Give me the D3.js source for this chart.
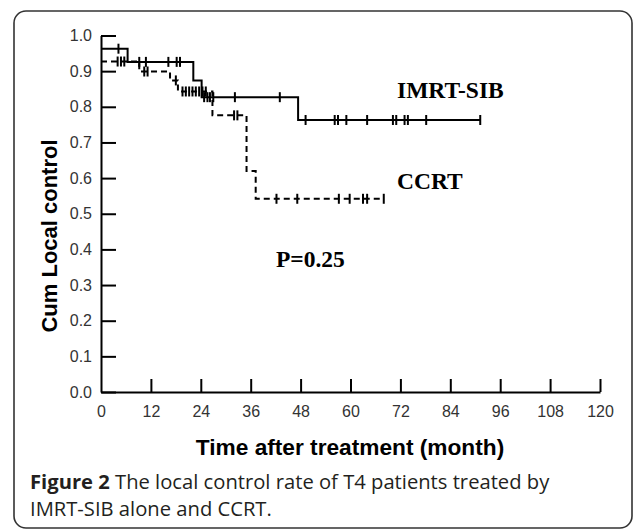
<!DOCTYPE html>
<html><head><meta charset="utf-8">
<script src="https://cdn.jsdelivr.net/npm/d3@7"></script>
<style>body{margin:0;background:#fff}svg{display:block}</style>
</head><body>
<svg id="chart" width="633" height="530"></svg>
<script>
// ---- data ----
const yTicks = [0, 0.1, 0.2, 0.3, 0.4, 0.5, 0.6, 0.7, 0.8, 0.9, 1.0];
const xTicks = [0, 12, 24, 36, 48, 60, 72, 84, 96, 108, 120];

const imrtTimes = [0, 6.4, 22.2, 24.2, 47.4, 91.2];
const imrtSurv  = [0.963, 0.926, 0.874, 0.827, 0.763, 0.763];
const imrtCensor = [4.2, 9.2, 10.8, 16.2, 18.2, 19.0, 24.8, 25.6, 26.2, 27.0, 32.2, 43.0,
                    49.2, 56.2, 57.0, 59.0, 64.0, 70.2, 71.0, 73.0, 73.8, 78.2, 91.2];

const ccrtTimes = [0, 9.2, 16.6, 18.5, 26.8, 35.0, 37.2, 68.0];
const ccrtSurv  = [0.927, 0.899, 0.874, 0.843, 0.776, 0.62, 0.542, 0.542];
const ccrtCensor = [4.0, 4.8, 5.6, 10.4, 11.2, 18.0, 19.6, 20.4, 21.2, 22.0, 22.8, 23.6, 24.4, 25.2,
                    32.0, 32.8, 42.2, 47.2, 57.2, 59.8, 63.0, 64.0, 68.0];

const seriesLabels = ["IMRT-SIB", "CCRT"];
const pLabel = "P=0.25";
const xTitle = "Time after treatment (month)";
const yTitle = "Cum Local control";

// ---- drawing ----
const svg = d3.select("#chart");
svg.append("rect").attr("x", 14).attr("y", 11).attr("width", 618).attr("height", 517)
  .attr("rx", 12).attr("fill", "#fff").attr("stroke", "#333").attr("stroke-width", 1.6);

const x = d3.scaleLinear().domain([0, 120]).range([101, 600]);
const y = d3.scaleLinear().domain([0, 1]).range([392, 35.5]);

const yAxis = d3.axisLeft(y).tickValues(yTicks).tickFormat(d3.format(".1f"))
  .tickSizeInner(-15).tickSizeOuter(0).tickPadding(9);
const gy = svg.append("g").attr("transform", `translate(${x(0)},0)`).call(yAxis);
const xAxis = d3.axisBottom(x).tickValues(xTicks).tickFormat(d3.format("d"))
  .tickSizeInner(-13).tickSizeOuter(0).tickPadding(14);
const gx = svg.append("g").attr("transform", `translate(0,${y(0)})`).call(xAxis);
[gx, gy].forEach(g => {
  g.selectAll("path.domain").attr("stroke", "#000").attr("stroke-width", 2);
  g.selectAll(".tick line").attr("stroke", "#000").attr("stroke-width", 2);
  g.selectAll(".tick text").attr("fill", "#333").style("font-family", "Liberation Sans, Arial, sans-serif").style("font-size", "16px");
});
gx.selectAll(".tick").filter(d => d === 0).select("line").remove();

function stepVal(times, surv, t) {
  let v = surv[0];
  for (let i = 0; i < times.length; i++) if (t >= times[i]) v = surv[i];
  return v;
}
const line = d3.line().x(d => x(d[0])).y(d => y(d[1])).curve(d3.curveStepAfter);

function drawSeries(times, surv, censor, dash) {
  const pts = times.map((t, i) => [t, surv[i]]);
  svg.append("path").datum(pts).attr("d", line).attr("fill", "none")
    .attr("stroke", "#000").attr("stroke-width", 2).attr("stroke-dasharray", dash);
  svg.append("g").selectAll("line").data(censor).join("line")
    .attr("x1", d => x(d)).attr("x2", d => x(d))
    .attr("y1", d => y(stepVal(times, surv, d)) - 5)
    .attr("y2", d => y(stepVal(times, surv, d)) + 5)
    .attr("stroke", "#000").attr("stroke-width", 2);
}
drawSeries(imrtTimes, imrtSurv, imrtCensor, null);
drawSeries(ccrtTimes, ccrtSurv, ccrtCensor, "6,4");

const serif = "Liberation Serif, Times New Roman, serif";
svg.append("text").attr("x", 397).attr("y", 98).text(seriesLabels[0])
  .style("font-family", serif).style("font-weight", "bold").style("font-size", "23.5px");
svg.append("text").attr("x", 397).attr("y", 189).text(seriesLabels[1])
  .style("font-family", serif).style("font-weight", "bold").style("font-size", "23.5px");
svg.append("text").attr("x", 276).attr("y", 267).text(pLabel)
  .style("font-family", serif).style("font-weight", "bold").style("font-size", "23.5px");

svg.append("text").attr("x", 350).attr("y", 455).attr("text-anchor", "middle").text(xTitle)
  .style("font-family", "Liberation Sans, Arial, sans-serif").style("font-weight", "bold").style("font-size", "22.7px");
svg.append("text").attr("transform", "translate(57,236) rotate(-90)").attr("text-anchor", "middle").text(yTitle)
  .style("font-family", "Liberation Sans, Arial, sans-serif").style("font-weight", "bold").style("font-size", "22px");

const cap = svg.append("text").attr("x", 30).attr("y", 489).attr("fill", "#231f20")
  .style("font-family", "Open Sans, sans-serif").style("font-size", "20.2px");
cap.append("tspan").style("font-weight", "bold").text("Figure 2");
cap.append("tspan").text(" The local control rate of T4 patients treated by");
svg.append("text").attr("x", 30).attr("y", 516).attr("fill", "#231f20")
  .style("font-family", "Open Sans, sans-serif").style("font-size", "20.2px")
  .text("IMRT-SIB alone and CCRT.");
</script>
</body></html>
